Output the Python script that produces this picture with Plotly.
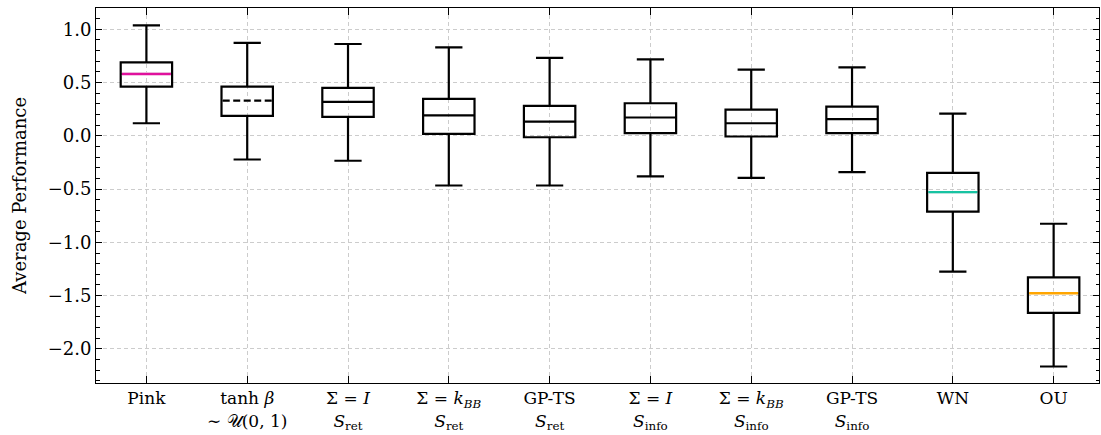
import plotly.graph_objects as go

categories = ["Pink", "tanh <i>β</i><br>∼ 𝒰(0, 1)", "Σ = <i>I</i><br><i>S</i><sub>ret</sub>",
              "Σ = <i>k</i><sub><i>BB</i></sub><br><i>S</i><sub>ret</sub>", "GP-TS<br><i>S</i><sub>ret</sub>",
              "Σ = <i>I</i><br><i>S</i><sub>info</sub>", "Σ = <i>k</i><sub><i>BB</i></sub><br><i>S</i><sub>info</sub>",
              "GP-TS<br><i>S</i><sub>info</sub>", "WN", "OU"]
upper_whisker = [1.037, 0.872, 0.862, 0.831, 0.731, 0.718, 0.621, 0.643, 0.209, -0.825]
q3_values = [0.690, 0.462, 0.450, 0.347, 0.281, 0.306, 0.247, 0.275, -0.347, -1.328]
medians = [0.581, 0.331, 0.319, 0.193, 0.134, 0.172, 0.118, 0.156, -0.528, -1.478]
q1_values = [0.462, 0.187, 0.178, 0.019, -0.013, 0.025, -0.006, 0.025, -0.712, -1.662]
lower_whisker = [0.118, -0.222, -0.234, -0.466, -0.466, -0.381, -0.394, -0.341, -1.275, -2.165]
median_colors = ["#e0119d", "black", "black", "black", "black", "black", "black", "black", "#17c3a2", "#ffa500"]
median_dashed = [False, True, False, False, False, False, False, False, False, False]

FONT = "DejaVu Serif"
BOX_W = 0.51
positions = list(range(1, len(categories) + 1))

fig = go.Figure()
for i, pos in enumerate(positions):
    fig.add_trace(go.Box(
        x=[pos], q1=[q1_values[i]], median=[medians[i]], q3=[q3_values[i]],
        lowerfence=[lower_whisker[i]], upperfence=[upper_whisker[i]],
        width=BOX_W, whiskerwidth=0.53,
        line=dict(color="black", width=2.2),
        fillcolor="rgba(0,0,0,0)", boxpoints=False, showlegend=False,
    ))

for i, pos in enumerate(positions):
    xs = [pos - BOX_W / 2 + 0.012, pos + BOX_W / 2 - 0.012]
    ys = [medians[i], medians[i]]
    if median_dashed[i]:
        fig.add_trace(go.Scatter(x=xs, y=ys, mode="lines", line=dict(color="white", width=3.4),
                                 showlegend=False, hoverinfo="skip"))
        fig.add_trace(go.Scatter(x=xs, y=ys, mode="lines",
                                 line=dict(color="black", width=2.2, dash="7px,3.5px"),
                                 showlegend=False, hoverinfo="skip"))
    elif median_colors[i] != "black":
        fig.add_trace(go.Scatter(x=xs, y=ys, mode="lines", line=dict(color="white", width=3.4),
                                 showlegend=False, hoverinfo="skip"))
        fig.add_trace(go.Scatter(x=xs, y=ys, mode="lines", line=dict(color=median_colors[i], width=2.4),
                                 showlegend=False, hoverinfo="skip"))

fig.update_layout(
    width=1101, height=435,
    margin=dict(l=96, r=2, t=8, b=52),
    paper_bgcolor="white", plot_bgcolor="white",
    font=dict(family=FONT, size=18, color="black"),
    showlegend=False,
)
fig.update_xaxes(
    range=[0.5, 10.45], tickvals=positions, ticktext=categories,
    showline=True, linecolor="black", linewidth=1, mirror="ticks",
    ticks="inside", ticklen=7, tickwidth=1, tickcolor="black",
    showgrid=True, gridcolor="#cccccc", griddash="4px,3px", gridwidth=1,
    zeroline=False, tickfont=dict(family=FONT, size=17),
)
fig.update_yaxes(
    range=[-2.32, 1.2], tickvals=[-2.0, -1.5, -1.0, -0.5, 0.0, 0.5, 1.0], tickformat=".1f",
    showline=True, linecolor="black", linewidth=1, mirror="ticks",
    ticks="inside", ticklen=6, tickwidth=1, tickcolor="black",
    minor=dict(ticks="inside", ticklen=3.5, tickwidth=1, tickcolor="black", dtick=0.1, tick0=0, showgrid=False),
    showgrid=True, gridcolor="#cccccc", griddash="4px,3px", gridwidth=1,
    zeroline=False, tickfont=dict(family=FONT, size=18),
    title=dict(text="Average Performance", font=dict(family=FONT, size=18), standoff=16),
)

fig.write_html("out.html")
